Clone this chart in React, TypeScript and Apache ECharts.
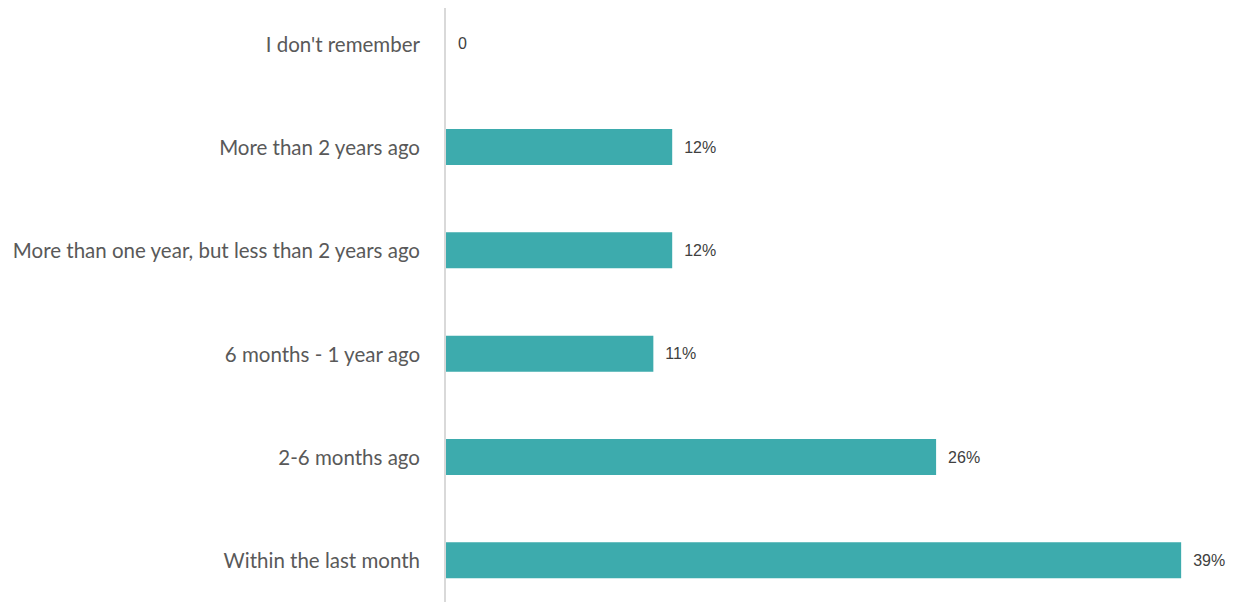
import React, { useEffect, useRef } from "react";
import * as echarts from "echarts";

const categories = [
  "Within the last month",
  "2-6 months ago",
  "6 months - 1 year ago",
  "More than one year, but less than 2 years ago",
  "More than 2 years ago",
  "I don't remember",
];
const values = [39, 26, 11, 12, 12, 0];

export default function App() {
  const ref = useRef<HTMLDivElement>(null);
  useEffect(() => {
    if (!ref.current) return;
    const chart = echarts.init(ref.current, null, { renderer: "svg" });
    chart.setOption({
      animation: false,
      backgroundColor: "#ffffff",
      grid: { left: 446, right: 56, top: 0, bottom: 0, containLabel: false },
      xAxis: {
        type: "value",
        min: 0,
        max: 40,
        show: false,
      },
      yAxis: {
        type: "category",
        data: categories,
        axisLine: { show: false },
        axisTick: { show: false },
        axisLabel: {
          color: "#595959",
          fontSize: 20.5,
          fontFamily: "Lato",
          margin: 26,
        },
      },
      graphic: [
        {
          type: "line",
          shape: { x1: 445, y1: 16, x2: 445, y2: 620 },
          style: { stroke: "#d9d9d9", lineWidth: 2 },
        },
      ],
      series: [
        {
          type: "bar",
          data: values,
          barWidth: 36,
          itemStyle: { color: "#3DABAD" },
          label: {
            show: true,
            position: "right",
            distance: 12,
            color: "#404040",
            fontSize: 16,
            fontFamily: "Liberation Sans",
            formatter: (p: any) => (p.value === 0 ? "0" : p.value + "%"),
          },
        },
      ],
    });
    return () => chart.dispose();
  }, []);
  return (
    <div
      ref={ref}
      style={{ position: "fixed", left: 0, top: -8, width: 1256, height: 620 }}
    />
  );
}
